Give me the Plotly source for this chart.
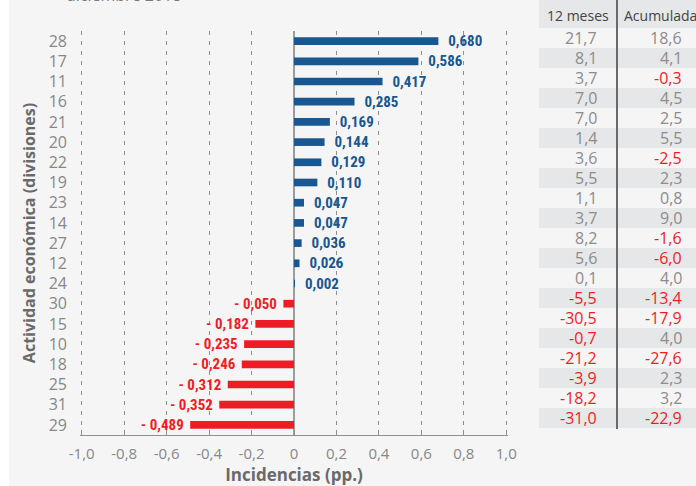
import plotly.graph_objects as go

# ---------------- data ----------------
categories = ["28", "17", "11", "16", "21", "20", "22", "19", "23", "14",
              "27", "12", "24", "30", "15", "10", "18", "25", "31", "29"]
incidencias = [0.680, 0.586, 0.417, 0.285, 0.169, 0.144, 0.129, 0.110, 0.047, 0.047,
               0.036, 0.026, 0.002, -0.050, -0.182, -0.235, -0.246, -0.312, -0.352, -0.489]
var_12_meses = [21.7, 8.1, 3.7, 7.0, 7.0, 1.4, 3.6, 5.5, 1.1, 3.7,
                8.2, 5.6, 0.1, -5.5, -30.5, -0.7, -21.2, -3.9, -18.2, -31.0]
var_acumulada = [18.6, 4.1, -0.3, 4.5, 2.5, 5.5, -2.5, 2.3, 0.8, 9.0,
                 -1.6, -6.0, 4.0, -13.4, -17.9, 4.0, -27.6, 2.3, 3.2, -22.9]
table_headers = ["12 meses", "Acumulada"]
x_tick_values = [-1.0, -0.8, -0.6, -0.4, -0.2, 0.0, 0.2, 0.4, 0.6, 0.8, 1.0]
x_tick_labels = ["-1,0", "-0,8", "-0,6", "-0,4", "-0,2", "0", "0,2", "0,4", "0,6", "0,8", "1,0"]

BLUE = "#18578f"
RED = "#ee1d25"
GRAY_TXT = "#878787"
TITLE_GRAY = "#6a6a6a"
BG = "#f5f5f5"
ROW_GRAY = "#e6e7e8"

W, H = 696, 486
L, R, T, B = 80, 188, 31, 51
PW, PH = W - L - R, H - T - B


def px_x(px):
    return (px - L) / PW


def px_y(py):
    return 1 - (py - T) / PH


def fmt_bar(v):
    s = f"{abs(v):.3f}".replace(".", ",")
    return ("\u00a0\u00a0" + s) if v >= 0 else ("- " + s + "\u00a0")


def fmt_tab(v):
    return f"{v:.1f}".replace(".", ",")


colors = [BLUE if v >= 0 else RED for v in incidencias]

fig = go.Figure()
fig.add_trace(go.Bar(
    x=incidencias, y=categories, orientation="h",
    marker=dict(color=colors, line=dict(width=0)),
    width=0.38,
    text=[fmt_bar(v) for v in incidencias],
    textposition="outside",
    constraintext="none",
    textfont=dict(family="Liberation Sans Narrow, Roboto Condensed, Roboto", size=15, color=colors,
                  weight="bold"),
    cliponaxis=False,
    hoverinfo="skip",
))

shapes = []
annotations = []

# left white strip
shapes.append(dict(type="rect", xref="paper", yref="paper", x0=px_x(-5), x1=px_x(9),
                   y0=px_y(-5), y1=px_y(H + 5), fillcolor="white", line=dict(width=0), layer="below"))

# table backgrounds
tab_x0, tab_div, tab_x1 = 539, 617, 720
row_top0, row_h = 28, 20
shapes.append(dict(type="rect", xref="paper", yref="paper", x0=px_x(tab_x0), x1=px_x(tab_x1),
                   y0=px_y(-3), y1=px_y(row_top0), fillcolor=ROW_GRAY, line=dict(width=0), layer="below"))
for i in range(len(categories)):
    if i % 2 == 1:
        shapes.append(dict(type="rect", xref="paper", yref="paper", x0=px_x(tab_x0), x1=px_x(tab_x1),
                           y0=px_y(row_top0 + i * row_h), y1=px_y(row_top0 + (i + 1) * row_h),
                           fillcolor=ROW_GRAY, line=dict(width=0), layer="below"))
shapes.append(dict(type="line", xref="paper", yref="paper", x0=px_x(tab_div), x1=px_x(tab_div),
                   y0=px_y(0), y1=px_y(row_top0 + len(categories) * row_h + 1),
                   line=dict(color="#6a6a6a", width=2)))

# table header
annotations.append(dict(xref="paper", yref="paper", x=px_x((tab_x0 + tab_div) / 2), y=px_y(16),
                        text=table_headers[0], showarrow=False, xanchor="center", yanchor="middle",
                        font=dict(family="Open Sans", size=14, color="#444444")))
annotations.append(dict(xref="paper", yref="paper", x=px_x(622), y=px_y(16),
                        text=table_headers[1], showarrow=False, xanchor="left", yanchor="middle",
                        font=dict(family="Open Sans", size=14, color="#444444")))
for i in range(len(categories)):
    yc = px_y(row_top0 + i * row_h + row_h / 2)
    for val, xr in ((var_12_meses[i], 599), (var_acumulada[i], 684)):
        annotations.append(dict(xref="paper", yref="paper", x=px_x(xr), y=yc, text=fmt_tab(val),
                                showarrow=False, xanchor="right", yanchor="middle",
                                font=dict(family="Open Sans", size=16,
                                          color=RED if val < 0 else "#8c8c8c")))

# cut-off subtitle at the top
annotations.append(dict(xref="paper", yref="paper", x=px_x(64), y=px_y(8),
                        text="diciembre 2018", showarrow=False, xanchor="left", yanchor="bottom",
                        font=dict(family="Open Sans", size=16, color="#7a7a7a")))

fig.update_layout(
    width=W, height=H,
    margin=dict(l=L, r=R, t=T, b=B, pad=0, autoexpand=False),
    paper_bgcolor=BG, plot_bgcolor="rgba(0,0,0,0)",
    showlegend=False,
    shapes=shapes, annotations=annotations,
    font=dict(family="Open Sans", color=GRAY_TXT),
    xaxis=dict(
        range=[-1.008, 1.008], tickvals=x_tick_values, ticktext=x_tick_labels,
        showgrid=True, gridcolor="#8f8f8f", gridwidth=1, griddash="4px,6px",
        zeroline=True, zerolinecolor="#9c9c9c", zerolinewidth=2,
        showline=True, linecolor="#8f8f8f", linewidth=1,
        ticks="inside", ticklen=5, tickcolor="#8f8f8f",
        tickfont=dict(family="Open Sans", size=15, color=GRAY_TXT),
        ticklabelstandoff=5,
        automargin=False,
        title=dict(text="<b>Incidencias (pp.)</b>", standoff=7,
                   font=dict(family="Open Sans", size=17, color=TITLE_GRAY)),
        fixedrange=True,
    ),
    yaxis=dict(
        type="category", categoryorder="array", categoryarray=categories,
        range=[len(categories) - 0.5, -0.5],
        showgrid=False, zeroline=False, showline=False, ticks="",
        tickfont=dict(family="Open Sans", size=16, color=GRAY_TXT),
        ticklabelstandoff=12,
        automargin=False,
        title=dict(text="<b>Actividad económica (divisiones)</b>", standoff=9,
                   font=dict(family="Open Sans", size=16, color=TITLE_GRAY)),
        fixedrange=True,
    ),
)

fig.write_html("out.html", config={"displayModeBar": False},
               post_script="document.body.style.margin='0';document.body.style.overflow='hidden';")
